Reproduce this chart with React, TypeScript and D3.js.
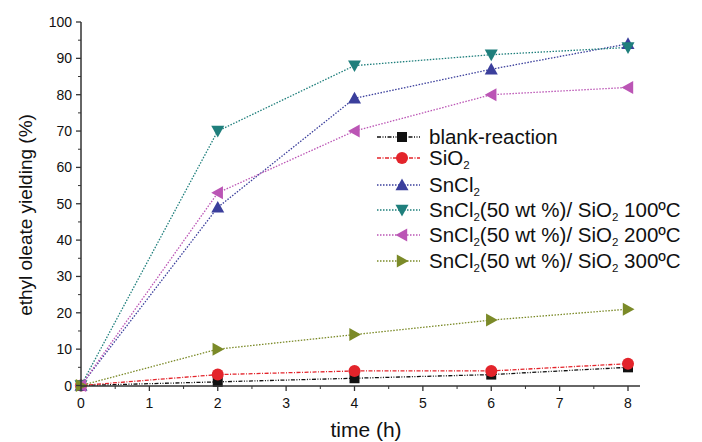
import React from "react";
import * as d3 from "d3";

const times = [0, 2, 4, 6, 8];
const blank = [0, 1, 2, 3, 5];
const sio2 = [0, 3, 4, 4, 6];
const sncl2 = [0, 49, 79, 87, 94];
const c100 = [0, 70, 88, 91, 93];
const c200 = [0, 53, 70, 80, 82];
const c300 = [0, 10, 14, 18, 21];
const xTicks = [0, 1, 2, 3, 4, 5, 6, 7, 8];
const yTicks = [0, 10, 20, 30, 40, 50, 60, 70, 80, 90, 100];

type Seg = { t: string; sub?: boolean };
const series = [
  { name: [{ t: "blank-reaction" }] as Seg[], values: blank, color: "#111111", marker: "square", dash: "4,1.5,1,1.5,1,1.5" },
  { name: [{ t: "SiO" }, { t: "2", sub: true }] as Seg[], values: sio2, color: "#e3242b", marker: "circle", dash: "4,1.5,1,1.5" },
  { name: [{ t: "SnCl" }, { t: "2", sub: true }] as Seg[], values: sncl2, color: "#3b3f9c", marker: "up", dash: "1.5,1.5" },
  { name: [{ t: "SnCl" }, { t: "2", sub: true }, { t: "(50 wt %)/ SiO" }, { t: "2", sub: true }, { t: " 100ºC" }] as Seg[], values: c100, color: "#1f7f7c", marker: "down", dash: "1.5,1.5" },
  { name: [{ t: "SnCl" }, { t: "2", sub: true }, { t: "(50 wt %)/ SiO" }, { t: "2", sub: true }, { t: " 200ºC" }] as Seg[], values: c200, color: "#bb55b5", marker: "left", dash: "1.5,1.5" },
  { name: [{ t: "SnCl" }, { t: "2", sub: true }, { t: "(50 wt %)/ SiO" }, { t: "2", sub: true }, { t: " 300ºC" }] as Seg[], values: c300, color: "#7b8a28", marker: "right", dash: "1.5,1.5" },
];

function Marker({ type, x, y, color }: { type: string; x: number; y: number; color: string }) {
  const s = 6.5;
  if (type === "square") return <rect x={x - 5} y={y - 5} width={10} height={10} fill={color} />;
  if (type === "circle") return <circle cx={x} cy={y} r={6} fill={color} />;
  let pts: number[][] = [];
  if (type === "up") pts = [[x, y - s], [x + s, y + s * 0.8], [x - s, y + s * 0.8]];
  if (type === "down") pts = [[x, y + s], [x + s, y - s * 0.8], [x - s, y - s * 0.8]];
  if (type === "left") pts = [[x - s, y], [x + s * 0.8, y - s], [x + s * 0.8, y + s]];
  if (type === "right") pts = [[x + s, y], [x - s * 0.8, y - s], [x - s * 0.8, y + s]];
  return <polygon points={pts.map((p) => p.join(",")).join(" ")} fill={color} />;
}

export default function App() {
  const W = 702, H = 442;
  const x = d3.scaleLinear().domain([0, 8]).range([81, 628]);
  const y = d3.scaleLinear().domain([0, 100]).range([385.5, 22]);
  const line = d3.line<number>().x((_, i) => x(times[i])).y((d) => y(d));
  const font = "'Liberation Sans', Arial, sans-serif";
  const axisColor = "#333";
  const minorX = d3.range(0, 8.01, 0.5).filter((v) => v % 1 !== 0);
  const minorY = d3.range(5, 100, 10);
  const legendY = [137, 158, 185, 210, 235, 261];
  return (
    <svg width={W} height={H} style={{ position: "absolute", left: 0, top: 0 }} fontFamily={font}>
      <rect width={W} height={H} fill="white" />
      {series.map((s, i) => (
        <path key={i} d={line(s.values) || ""} fill="none" stroke={s.color} strokeWidth={1.3} strokeDasharray={s.dash} />
      ))}
      {series.map((s, i) =>
        s.values.map((v, j) => <Marker key={i + "-" + j} type={s.marker} x={x(times[j])} y={y(v)} color={s.color} />)
      )}
      {/* axes */}
      <line x1={81} x2={640} y1={386} y2={386} stroke={axisColor} strokeWidth={1.5} />
      <line x1={81} x2={81} y1={386} y2={22} stroke={axisColor} strokeWidth={1.5} />
      {xTicks.map((t) => (
        <g key={t}>
          <line x1={x(t)} x2={x(t)} y1={386} y2={391} stroke={axisColor} strokeWidth={1.3} />
          <text x={x(t)} y={408} fontSize={14} textAnchor="middle" fill="#111">{t}</text>
        </g>
      ))}
      {minorX.map((t) => (
        <line key={t} x1={x(t)} x2={x(t)} y1={386} y2={389} stroke={axisColor} strokeWidth={1} />
      ))}
      {yTicks.map((t) => (
        <g key={t}>
          <line x1={76} x2={81} y1={y(t)} y2={y(t)} stroke={axisColor} strokeWidth={1.3} />
          <text x={72} y={y(t) + 5} fontSize={14} textAnchor="end" fill="#111">{t}</text>
        </g>
      ))}
      {minorY.map((t) => (
        <line key={t} x1={78} x2={81} y1={y(t)} y2={y(t)} stroke={axisColor} strokeWidth={1} />
      ))}
      <text x={366} y={437} fontSize={21} textAnchor="middle" fill="#111">time (h)</text>
      <text transform="translate(32,215) rotate(-90)" fontSize={19} textAnchor="middle" fill="#111">ethyl oleate yielding (%)</text>
      {/* legend */}
      {series.map((s, i) => (
        <g key={i}>
          <line x1={377} x2={420} y1={legendY[i]} y2={legendY[i]} stroke={s.color} strokeWidth={1.3} strokeDasharray={s.dash} />
          <Marker type={s.marker} x={402} y={legendY[i]} color={s.color} />
          <text x={429} y={legendY[i] + 7} fontSize={20.5} fill="#111">
            {s.name.map((seg, k) =>
              seg.sub ? (
                <tspan key={k} fontSize={11.5} dy={4}>{seg.t}</tspan>
              ) : (
                <tspan key={k} dy={k > 0 && s.name[k - 1].sub ? -4 : 0}>{seg.t}</tspan>
              )
            )}
          </text>
        </g>
      ))}
    </svg>
  );
}
